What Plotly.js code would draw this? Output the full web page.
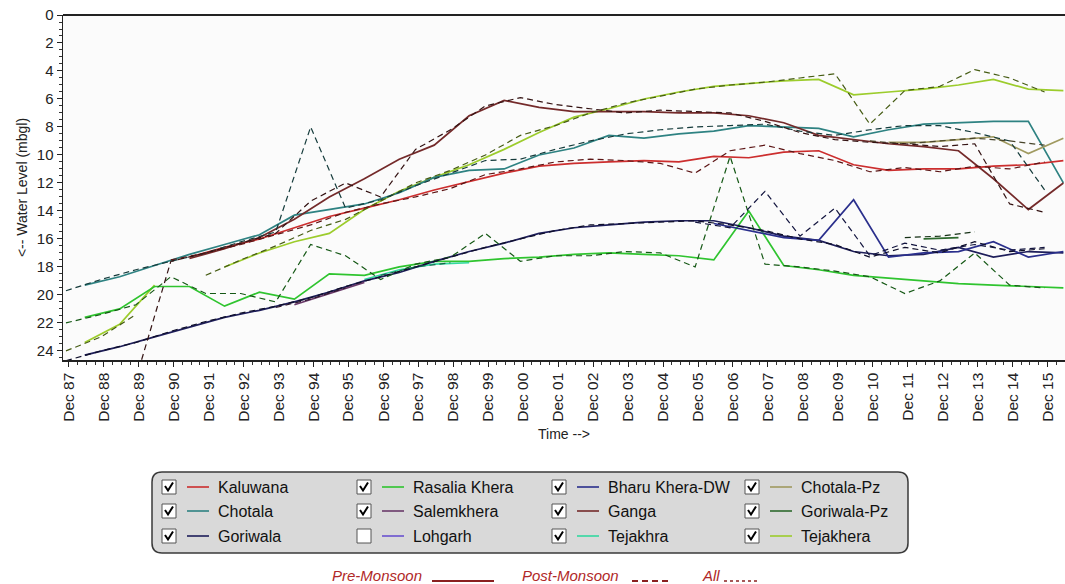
<!DOCTYPE html>
<html>
<head>
<meta charset="utf-8">
<script src="https://cdn.plot.ly/plotly-3.0.1.min.js"></script>
<style>
  html, body { margin: 0; padding: 0; background: #ffffff; }
  #chart { width: 1065px; height: 584px; }
</style>
</head>
<body>
<div id="chart"></div>
<script>
// Observation years (one pre-monsoon and one post-monsoon reading per year)
const years = [1987, 1988, 1989, 1990, 1991, 1992, 1993, 1994, 1995, 1996,
               1997, 1998, 1999, 2000, 2001, 2002, 2003, 2004, 2005, 2006,
               2007, 2008, 2009, 2010, 2011, 2012, 2013, 2014, 2015, 2016];

// December tick positions and their labels
const tickYears = [1987, 1988, 1989, 1990, 1991, 1992, 1993, 1994, 1995, 1996,
                   1997, 1998, 1999, 2000, 2001, 2002, 2003, 2004, 2005, 2006,
                   2007, 2008, 2009, 2010, 2011, 2012, 2013, 2014, 2015];
const tickLabels = ['Dec 87','Dec 88','Dec 89','Dec 90','Dec 91','Dec 92','Dec 93','Dec 94',
  'Dec 95','Dec 96','Dec 97','Dec 98','Dec 99','Dec 00','Dec 01','Dec 02','Dec 03','Dec 04',
  'Dec 05','Dec 06','Dec 07','Dec 08','Dec 09','Dec 10','Dec 11','Dec 12','Dec 13','Dec 14','Dec 15'];

// Depth to water level (m below ground level), null = no reading
const kaluwanaPre  = [null,null,null,null,17.3,16.6,16.0,15.2,14.4,13.8,13.2,12.5,11.9,11.3,10.8,10.6,10.5,10.4,10.5,10.1,10.2,9.8,9.7,10.7,11.1,11.0,11.0,10.8,10.7,10.4];
const kaluwanaPost = [null,null,null,17.5,17.0,16.4,15.7,15.0,14.1,13.5,13.0,12.4,11.4,11.0,10.5,10.3,10.4,10.6,11.3,9.7,9.3,9.9,10.4,11.2,10.9,11.2,10.8,11.0,10.5,null];

const rasaliaPre  = [null,21.6,21.0,19.4,19.4,20.8,19.8,20.3,18.5,18.6,18.0,17.6,17.6,17.4,17.3,17.1,17.0,17.1,17.2,17.5,14.0,17.9,18.2,18.6,18.8,19.0,19.2,19.3,19.4,19.5];
const rasaliaPost = [22.0,21.4,20.7,18.7,19.9,19.9,20.5,16.4,17.2,18.9,17.8,17.3,15.6,17.6,17.2,17.2,16.9,17.0,18.0,10.1,17.8,18.0,18.3,18.7,19.9,19.0,17.0,19.3,19.5,null];

const bharuPre  = [null,null,null,null,null,null,null,null,null,null,null,null,null,null,null,null,null,null,null,14.9,15.4,15.9,16.1,13.2,17.3,17.0,16.9,16.2,17.3,16.9];
const bharuPost = [null,null,null,null,null,null,null,null,null,null,null,null,null,null,null,null,null,null,14.8,15.2,12.6,15.8,13.8,17.2,16.3,16.8,16.4,16.8,16.6,null];

const chotalaPzPre  = [null,null,null,null,null,null,null,null,null,null,null,null,null,null,null,null,null,null,null,null,null,null,null,null,9.1,9.1,8.9,8.7,9.9,8.8];
const chotalaPzPost = [null,null,null,null,null,null,null,null,null,null,null,null,null,null,null,null,null,null,null,null,null,null,null,9.0,9.2,9.0,8.8,9.0,9.3,null];

const chotalaPre  = [null,19.3,18.7,17.9,17.1,16.4,15.7,14.3,13.9,13.5,12.7,11.6,11.1,11.0,10.0,9.5,8.6,8.8,8.5,8.3,7.9,8.0,8.1,8.7,8.2,7.8,7.7,7.6,7.6,12.0];
const chotalaPost = [19.7,18.9,18.2,17.6,17.0,16.2,15.5,8.0,13.8,13.2,12.2,11.3,10.4,10.3,9.6,9.0,8.5,8.2,8.0,7.9,7.8,8.3,8.6,8.2,7.9,7.9,8.4,9.0,12.5,null];

const salemkheraPre  = [null,null,null,null,null,null,null,20.7,19.9,19.1,null,null,null,null,null,null,null,null,null,null,null,null,null,null,null,null,null,null,null,null];
const salemkheraPost = [null,null,null,null,null,null,20.9,20.3,19.5,null,null,null,null,null,null,null,null,null,null,null,null,null,null,null,null,null,null,null,null,null];

const gangaPre  = [null,null,null,null,17.4,16.7,15.9,14.6,13.0,11.7,10.3,9.3,7.2,6.1,6.6,6.9,6.9,6.9,7.0,7.0,7.2,7.7,8.6,8.9,9.2,9.4,9.7,11.7,13.9,12.0];
const gangaPost = [null,null,26.0,17.6,17.0,16.3,15.6,13.3,12.0,13.0,9.6,8.2,6.5,5.9,6.4,6.7,7.0,6.8,6.9,7.0,7.6,8.4,8.9,9.1,9.2,9.4,9.2,13.5,14.1,null];

const goriwalaPzPre  = [null,null,null,null,null,null,null,null,null,null,null,null,null,null,null,null,null,null,null,null,null,null,null,null,null,16.0,15.9,null,null,null];
const goriwalaPzPost = [null,null,null,null,null,null,null,null,null,null,null,null,null,null,null,null,null,null,null,null,null,null,null,null,15.9,15.8,15.5,null,null,null];

const goriwalaPre  = [null,24.3,23.7,23.0,22.3,21.6,21.1,20.5,19.8,19.0,18.4,17.6,16.9,16.3,15.6,15.2,15.0,14.8,14.7,14.7,15.2,15.8,16.1,16.9,17.2,17.1,16.6,17.3,16.9,17.0];
const goriwalaPost = [24.7,24.0,23.4,22.6,21.9,21.3,20.8,20.2,19.4,18.7,18.0,17.3,16.6,16.0,15.4,15.0,14.9,14.8,14.7,15.0,15.4,16.0,16.4,17.3,16.6,17.0,16.2,16.9,16.7,null];

const tejakhraPre  = [null,null,null,null,null,null,null,null,null,18.9,18.2,17.8,17.7,null,null,null,null,null,null,null,null,null,null,null,null,null,null,null,null,null];
const tejakhraPost = [null,null,null,null,null,null,null,null,null,18.6,18.0,17.7,null,null,null,null,null,null,null,null,null,null,null,null,null,null,null,null,null,null];

const tejakheraPre  = [null,23.4,22.1,19.3,null,18.0,17.0,16.2,15.6,13.9,12.6,11.6,10.7,9.6,8.4,7.3,6.7,6.0,5.5,5.1,4.9,4.7,4.6,5.7,5.5,5.3,5.0,4.6,5.3,5.4];
const tejakheraPost = [24.0,23.0,21.4,null,18.6,17.5,16.5,15.4,14.6,13.3,12.0,11.1,10.0,8.6,7.9,7.0,6.3,5.8,5.3,5.0,4.8,4.5,4.2,7.8,5.4,5.1,3.9,4.5,5.5,null];

// Legend grid (column by column) and site colours
const siteNames = ['Kaluwana','Chotala','Goriwala',
                   'Rasalia Khera','Salemkhera','Lohgarh',
                   'Bharu Khera-DW','Ganga','Tejakhra',
                   'Chotala-Pz','Goriwala-Pz','Tejakhera'];
const siteColors = ['#cc2e2e','#2e8282','#1e1e5a',
                    '#2fc42f','#6a3a6a','#6a52d0',
                    '#2a2f8c','#742a2a','#33d9a0',
                    '#a09a60','#2e6a2e','#9ccc2c'];
const siteChecked = [true,true,true, true,true,false, true,true,true, true,true,true];

// Series drawn on the plot: [site, pre-monsoon, post-monsoon]
const plotted = [
  ['Tejakhera', tejakheraPre, tejakheraPost],
  ['Rasalia Khera', rasaliaPre, rasaliaPost],
  ['Tejakhra', tejakhraPre, tejakhraPost],
  ['Goriwala', goriwalaPre, goriwalaPost],
  ['Salemkhera', salemkheraPre, salemkheraPost],
  ['Bharu Khera-DW', bharuPre, bharuPost],
  ['Goriwala-Pz', goriwalaPzPre, goriwalaPzPost],
  ['Chotala', chotalaPre, chotalaPost],
  ['Chotala-Pz', chotalaPzPre, chotalaPzPost],
  ['Kaluwana', kaluwanaPre, kaluwanaPost],
  ['Ganga', gangaPre, gangaPost]
];

function darken(hex, f) {
  const n = parseInt(hex.slice(1), 16);
  const r = Math.round(((n >> 16) & 255) * f);
  const g = Math.round(((n >> 8) & 255) * f);
  const b = Math.round((n & 255) * f);
  return 'rgb(' + r + ',' + g + ',' + b + ')';
}
const colorOf = name => siteColors[siteNames.indexOf(name)];

const preDates = years.map(y => y + '-05-15');
const postDates = years.map(y => y + '-11-01');

const traces = [];
plotted.forEach(([name, pre]) => {
  traces.push({
    x: preDates, y: pre, type: 'scatter', mode: 'lines', name: name,
    line: { color: colorOf(name), width: 1.7 }, connectgaps: false, hoverinfo: 'skip'
  });
});
plotted.forEach(([name, , post]) => {
  traces.push({
    x: postDates, y: post, type: 'scatter', mode: 'lines', name: name + ' (post)',
    line: { color: darken(colorOf(name), 0.45), width: 1.2, dash: '6px,4px' },
    connectgaps: false, hoverinfo: 'skip'
  });
});

// Geometry of the plotting area, used to place the custom legend
const FIG_W = 1065, FIG_H = 584;
const M = { l: 63, r: 0, t: 15, b: 224 };
const PW = FIG_W - M.l - M.r, PH = FIG_H - M.t - M.b;
const px = x => (x - M.l) / PW;
const py = y => (M.t + PH - y) / PH;

const shapes = [];
const annotations = [];

// top frame line
shapes.push({ type: 'line', xref: 'paper', yref: 'paper', x0: 0, x1: 1, y0: 1, y1: 1,
  line: { color: '#222', width: 2 } });

// legend panel with rounded corners
(function () {
  const x0 = px(152), x1 = px(908), top = py(472), bot = py(553);
  const rx = 10 / PW, ry = 10 / PH;
  const d = `M ${x0 + rx} ${top} L ${x1 - rx} ${top} Q ${x1} ${top} ${x1} ${top - ry} ` +
            `L ${x1} ${bot + ry} Q ${x1} ${bot} ${x1 - rx} ${bot} L ${x0 + rx} ${bot} ` +
            `Q ${x0} ${bot} ${x0} ${bot + ry} L ${x0} ${top - ry} Q ${x0} ${top} ${x0 + rx} ${top} Z`;
  shapes.push({ type: 'path', xref: 'paper', yref: 'paper', path: d,
    fillcolor: '#d9d9d9', line: { color: '#3a3a3a', width: 1.5 } });
})();

const colX = [162, 357, 552, 745];
const rowY = [487, 511, 536];
siteNames.forEach((name, i) => {
  const c = Math.floor(i / 3), r = i % 3;
  const cx = colX[c], cy = rowY[r];
  // checkbox
  shapes.push({ type: 'rect', xref: 'paper', yref: 'paper',
    x0: px(cx), x1: px(cx + 14), y0: py(cy + 7), y1: py(cy - 7),
    fillcolor: '#ffffff', line: { color: '#555', width: 1 } });
  if (siteChecked[i]) {
    shapes.push({ type: 'path', xref: 'paper', yref: 'paper',
      path: `M ${px(cx + 3)} ${py(cy - 1)} L ${px(cx + 6)} ${py(cy + 3.5)} L ${px(cx + 11)} ${py(cy - 4.5)}`,
      line: { color: '#000', width: 2 } });
  }
  // colour key
  shapes.push({ type: 'line', xref: 'paper', yref: 'paper',
    x0: px(cx + 25), x1: px(cx + 47), y0: py(cy), y1: py(cy),
    line: { color: siteColors[i], width: 1.6 } });
  annotations.push({ xref: 'paper', yref: 'paper', x: px(cx + 54), y: py(cy),
    xanchor: 'left', yanchor: 'middle', showarrow: false, text: name,
    font: { family: 'Arial, Liberation Sans, sans-serif', size: 16, color: '#111' } });
});

// season key below the legend
const keyFont = { family: 'Arial, Liberation Sans, sans-serif', size: 15, color: '#b02828' };
const keyY = 575;
annotations.push({ xref: 'paper', yref: 'paper', x: px(330), y: py(keyY), xanchor: 'left', yanchor: 'middle',
  showarrow: false, text: '<i>Pre-Monsoon</i>', font: keyFont });
shapes.push({ type: 'line', xref: 'paper', yref: 'paper', x0: px(432), x1: px(494), y0: py(keyY + 6), y1: py(keyY + 6),
  line: { color: '#8a2020', width: 2 } });
annotations.push({ xref: 'paper', yref: 'paper', x: px(520), y: py(keyY), xanchor: 'left', yanchor: 'middle',
  showarrow: false, text: '<i>Post-Monsoon</i>', font: keyFont });
shapes.push({ type: 'line', xref: 'paper', yref: 'paper', x0: px(632), x1: px(672), y0: py(keyY + 6), y1: py(keyY + 6),
  line: { color: '#8a2020', width: 2, dash: '6px,4px' } });
annotations.push({ xref: 'paper', yref: 'paper', x: px(700), y: py(keyY), xanchor: 'left', yanchor: 'middle',
  showarrow: false, text: '<i>All</i>', font: keyFont });
shapes.push({ type: 'line', xref: 'paper', yref: 'paper', x0: px(724), x1: px(760), y0: py(keyY + 6), y1: py(keyY + 6),
  line: { color: '#8a2020', width: 1.5, dash: 'dot' } });

const layout = {
  width: FIG_W, height: FIG_H,
  margin: M,
  paper_bgcolor: '#ffffff',
  plot_bgcolor: '#fbfbfb',
  showlegend: false,
  font: { family: 'Arial, Liberation Sans, sans-serif', color: '#222' },
  xaxis: {
    type: 'date',
    range: ['1987-10-01', '2016-06-01'],
    tickmode: 'array',
    tickvals: tickYears.map(y => y + '-12-01'),
    ticktext: tickLabels,
    tickangle: -90,
    tickfont: { size: 15.5, color: '#222' },
    ticks: 'outside', ticklen: 5, tickcolor: '#222',
    minor: { ticks: 'outside', ticklen: 3, dtick: 'M3', tick0: '1987-12-01', tickcolor: '#333', showgrid: false },
    showgrid: false, zeroline: false,
    showline: true, linecolor: '#222', linewidth: 1.5,
    title: { text: 'Time --&gt;', font: { size: 14, color: '#222' }, standoff: 8 },
    automargin: false
  },
  yaxis: {
    range: [24.65, 0],
    tickmode: 'linear', tick0: 0, dtick: 2,
    tickfont: { size: 15, color: '#222' },
    ticks: 'outside', ticklen: 5, tickcolor: '#222',
    minor: { ticks: 'outside', ticklen: 3, dtick: 0.5, tickcolor: '#333', showgrid: false },
    showgrid: false, zeroline: false,
    showline: true, linecolor: '#222', linewidth: 1.5,
    title: { text: '&lt;-- Water Level (mbgl)', font: { size: 14, color: '#222' }, standoff: 6 },
    automargin: false
  },
  shapes: shapes,
  annotations: annotations
};

Plotly.newPlot('chart', traces, layout, { displayModeBar: false, staticPlot: true });
</script>
</body>
</html>
